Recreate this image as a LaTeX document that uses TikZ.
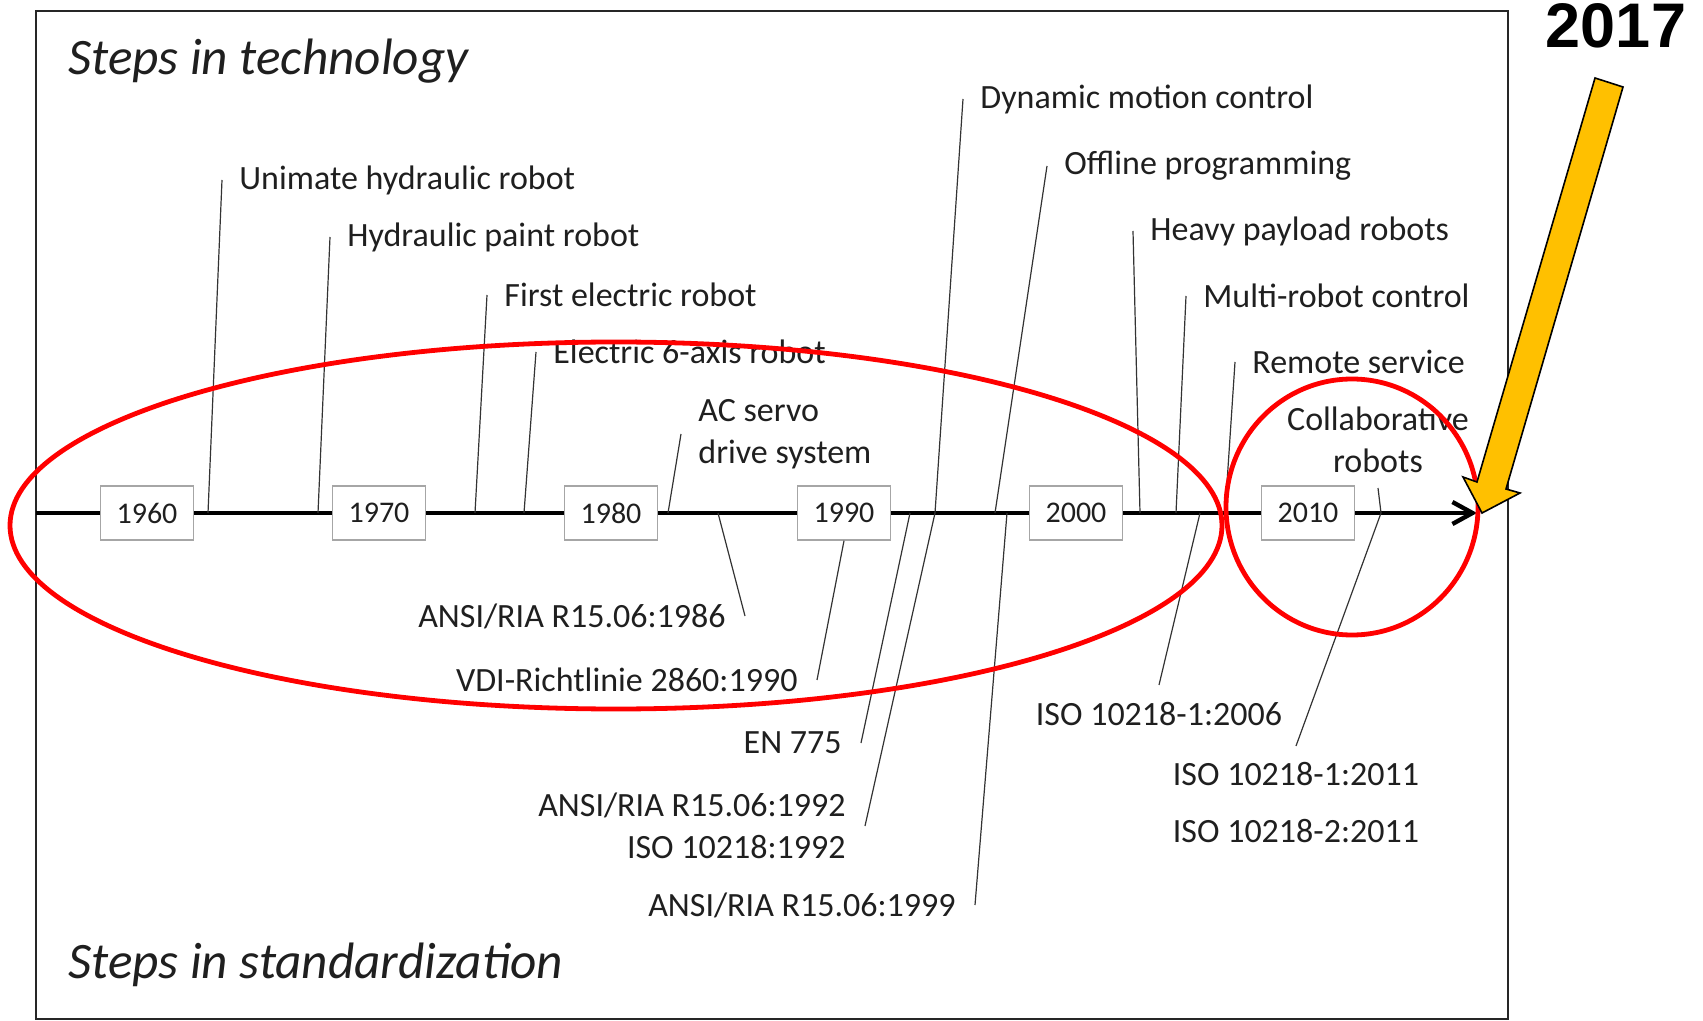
\documentclass[tikz,border=0pt]{standalone}
\usepackage{fontspec}
\setmainfont{Carlito}
\newfontfamily\markfont{Liberation Sans}
\usetikzlibrary{arrows.meta}
\definecolor{arrowgold}{HTML}{FFC000}

\begin{document}
\begin{tikzpicture}[x=0.5pt,y=-0.5pt,
  lab/.style={font=\fontsize{17pt}{21pt}\selectfont,text=black!88,inner ysep=0pt},
  tech/.style={lab,anchor=west,inner xsep=8.5pt,align=left},
  stand/.style={lab,anchor=east,inner xsep=9.5pt,align=right},
  title/.style={anchor=base west,inner sep=0pt,text=black!88,
    font=\fontsize{25.6pt}{30pt}\selectfont\itshape},
  yearbox/.style={draw=black!35,line width=0.75pt,fill=white,inner sep=0pt,
    minimum width=46.5pt,minimum height=27pt,text=black!88,
    font=\fontsize{15pt}{18pt}\selectfont},
  conn/.style={black!80,line width=0.6pt},
  redring/.style={red,line width=2.4pt}]
 \useasboundingbox (0,0) rectangle (1703,1021);
 \draw[black!85,line width=1.4pt] (36,11) rectangle (1508,1019);
 \node[title] (techtitle) at (68,75) {Steps in technology};
 \node[title] (stdtitle) at (68,978) {Steps in standardization};

 \coordinate (start) at (36,513);
 \coordinate (end) at (1477,513);
 \draw[line width=2.2pt,-{Straight Barb[length=10pt,width=11pt]}] (start) -- (end);
 \foreach \yr/\x in {1960/147,1970/379,1980/611,1990/844,2000/1076,2010/1308}
  \node[yearbox] (y\yr) at (\x,513) {\yr};

 \foreach \n/\x in {t1/208,t2/318,t3/475,t4/524,t5/668,t6/935,t7/995,
                    t8/1140,t9/1176,t10/1225,t11/1381,
                    s1/718,s3/910,s5/1007,s6/1200}
  \coordinate (\n) at (\x,513);

 \node[tech] (unimate) at (222,180) {Unimate hydraulic robot};
 \node[tech] (paint) at (330,237) {Hydraulic paint robot};
 \node[tech] (firstelec) at (487,295) {First electric robot};
 \node[tech] (sixaxis) at (536,352) {Electric 6-axis robot};
 \node[tech] (acservo) at (681,434) {AC servo\\drive system};
 \node[tech] (dynamic) at (963,99) {Dynamic motion control};
 \node[tech] (offline) at (1047,166) {Offline programming};
 \node[tech] (heavy) at (1133,231) {Heavy payload robots};
 \node[tech] (multi) at (1186,296) {Multi-robot control};
 \node[tech] (remote) at (1235,362) {Remote service};
 \node[lab,align=center,anchor=south,inner ysep=7.6pt] (collab) at (1378,488)
  {Collaborative\\robots};
 \draw[conn] (t1) -- (unimate.west);
 \draw[conn] (t2) -- (paint.west);
 \draw[conn] (t3) -- (firstelec.west);
 \draw[conn] (t4) -- (sixaxis.west);
 \draw[conn] (t5) -- (acservo.west);
 \draw[conn] (t6) -- (dynamic.west);
 \draw[conn] (t7) -- (offline.west);
 \draw[conn] (t8) -- (heavy.west);
 \draw[conn] (t9) -- (multi.west);
 \draw[conn] (t10) -- (remote.west);
 \draw[conn] (t11) -- (collab.south);

 \node[stand] (ansi86) at (745,616) {ANSI/RIA R15.06:1986};
 \node[stand] (vdi) at (817,680) {VDI-Richtlinie 2860:1990};
 \node[stand] (en775) at (861,743) {EN 775};
 \node[stand] (ansi92) at (865,826) {ANSI/RIA R15.06:1992\\ISO 10218:1992};
 \node[stand] (ansi99) at (975,905) {ANSI/RIA R15.06:1999};
 \node[lab,anchor=north,inner ysep=8.5pt] (iso06) at (1159,685) {ISO 10218-1:2006};
 \node[lab,anchor=north,inner ysep=8pt] (iso11a) at (1296,746) {ISO 10218-1:2011};
 \node[lab] (iso11b) at (1296,831) {ISO 10218-2:2011};
 \draw[conn] (s1) -- (ansi86.east);
 \draw[conn] (y1990.south) -- (vdi.east);
 \draw[conn] (s3) -- (en775.east);
 \draw[conn] (t6) -- (ansi92.east);
 \draw[conn] (s5) -- (ansi99.east);
 \draw[conn] (s6) -- (iso06.north);
 \draw[conn] (t11) -- (iso11a.north);

 \draw[redring] (616,525.5) ellipse [x radius=606, y radius=183.5];
 \draw[redring] (1352,507) ellipse [x radius=126, y radius=128];

 \filldraw[fill=arrowgold,draw=black,line width=0.8pt,line join=miter]
  (1595,78) -- (1623,87) -- (1506,489) -- (1520,493) -- (1482,513)
  -- (1463,477) -- (1477,482) -- cycle;
 \node[anchor=base,inner sep=0pt,font=\markfont\bfseries\fontsize{31.5pt}{36pt}\selectfont]
  (mark2017) at (1616,48) {2017};
\end{tikzpicture}
\end{document}
